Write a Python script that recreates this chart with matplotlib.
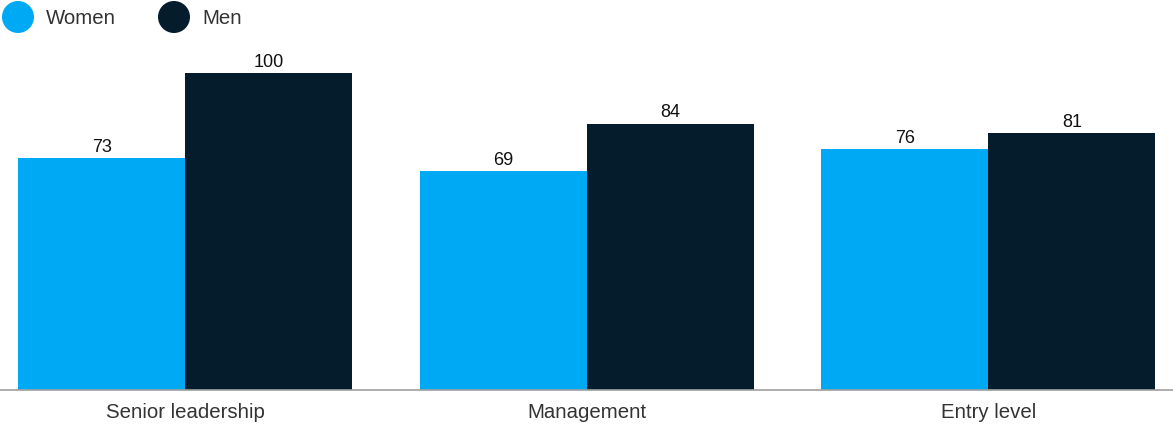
import matplotlib.pyplot as plt
from matplotlib.patches import Ellipse
import numpy as np

categories = ["Senior leadership", "Management", "Entry level"]
women = [73, 69, 76]
men = [100, 84, 81]

WOMEN_COLOR = "#00A9F4"
MEN_COLOR = "#051C2C"
TEXT_COLOR = "#333333"

plt.rcParams["font.family"] = ["Liberation Sans", "DejaVu Sans"]

fig = plt.figure(figsize=(11.73, 4.24), dpi=100)
ax = fig.add_axes([0.0, 1 - 389.5 / 424, 1.0, 316.5 / 424])

x = np.arange(len(categories))
width = 0.416
b1 = ax.bar(x - width / 2, women, width, color=WOMEN_COLOR, linewidth=0)
b2 = ax.bar(x + width / 2, men, width, color=MEN_COLOR, linewidth=0)

for bars, vals in ((b1, women), (b2, men)):
    for rect, v in zip(bars, vals):
        ax.annotate(f"{v}", (rect.get_x() + rect.get_width() / 2, v),
                    xytext=(0, 4.5), textcoords="offset points",
                    ha="center", va="baseline", fontsize=13, color="#111111",
                    annotation_clip=False)

ax.set_xlim(-0.4615, 2.46)
ax.set_ylim(0, 100)
for side in ("top", "right", "left"):
    ax.spines[side].set_visible(False)
ax.spines["bottom"].set_color("#a0a0a0")
ax.spines["bottom"].set_linewidth(1.2)
ax.set_yticks([])
ax.set_xticks(x)
ax.set_xticklabels(categories, fontsize=14.7, color=TEXT_COLOR)
ax.tick_params(axis="x", length=0, pad=10)

# legend row across the top
for cx, label, color in ((18, "Women", WOMEN_COLOR), (174, "Men", MEN_COLOR)):
    fig.add_artist(Ellipse((cx / 1173, 1 - 17 / 424), 32 / 1173, 32 / 424,
                           transform=fig.transFigure, color=color, linewidth=0))
    fig.text((cx + 28) / 1173, 1 - 18 / 424, label, fontsize=14.7,
             color=TEXT_COLOR, va="center", ha="left")

fig.savefig("out.png", dpi=100)
